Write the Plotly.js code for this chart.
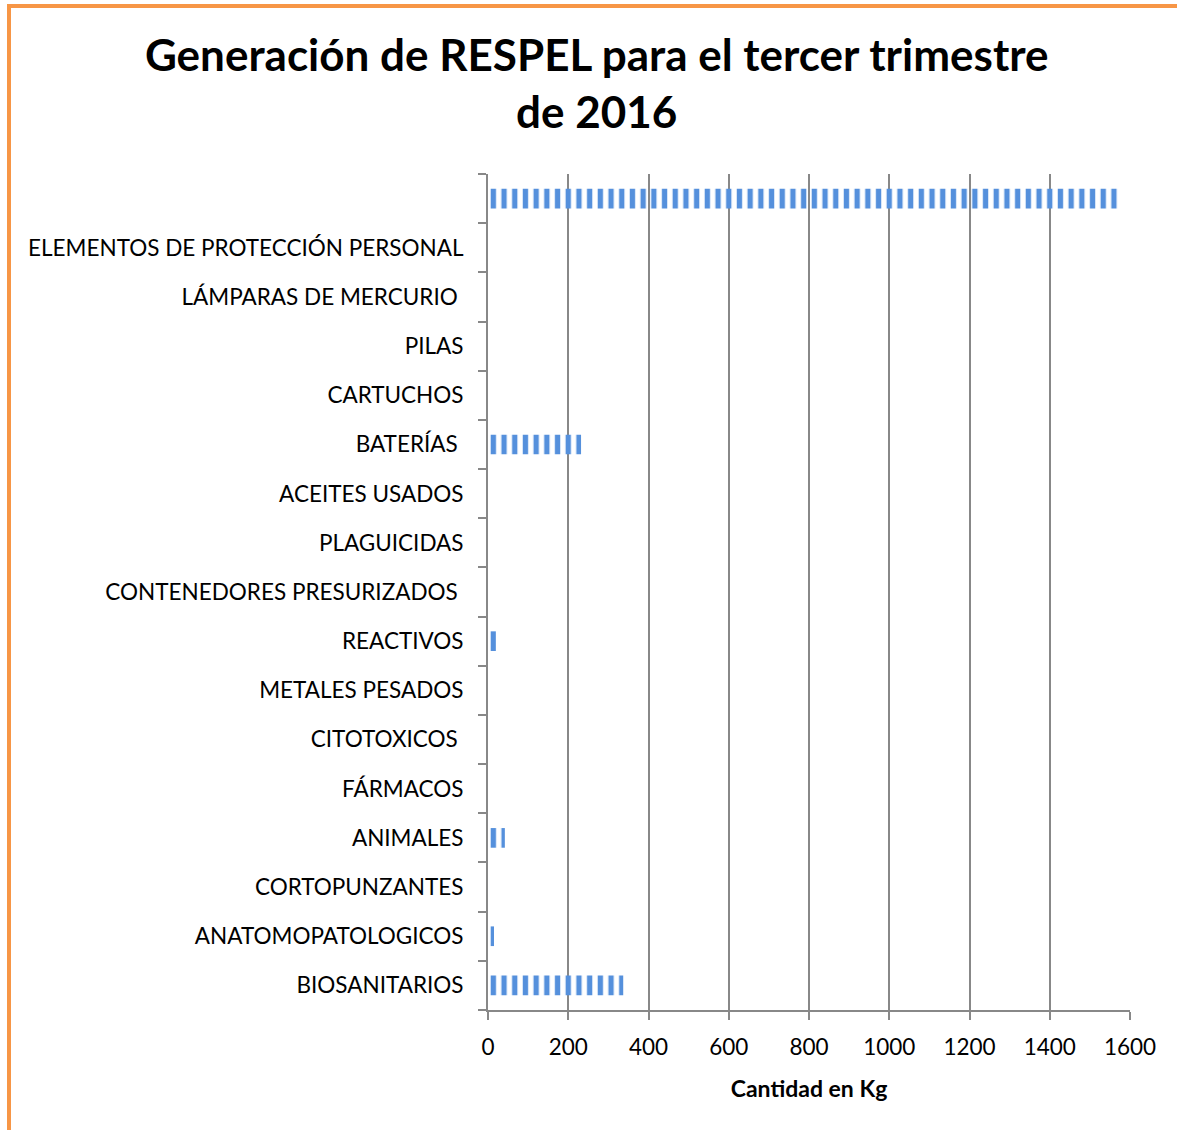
<!DOCTYPE html>
<html>
<head>
<meta charset="utf-8">
<script src="https://cdn.plot.ly/plotly-3.0.1.min.js"></script>
<style>
  html, body { margin: 0; padding: 0; background: #ffffff; }
  #wrap { position: relative; width: 1177px; height: 1130px; overflow: hidden; }
  #frame { position: absolute; left: 7px; top: 4px; width: 1200px; height: 1200px;
           border-top: 4px solid #F79646; border-left: 4px solid #F79646; box-sizing: border-box; pointer-events: none; z-index: 5; }
  #chart { position: absolute; left: 0; top: 0; width: 1177px; height: 1130px; }
</style>
</head>
<body>
<div id="wrap">
  <div id="chart"></div>
  <div id="frame"></div>
</div>
<script>
// Categories listed bottom to top
const categories = [
  "BIOSANITARIOS",
  "ANATOMOPATOLOGICOS",
  "CORTOPUNZANTES",
  "ANIMALES",
  "FÁRMACOS",
  "CITOTOXICOS\u00a0",
  "METALES PESADOS",
  "REACTIVOS",
  "CONTENEDORES PRESURIZADOS\u00a0",
  "PLAGUICIDAS",
  "ACEITES USADOS",
  "BATERÍAS\u00a0",
  "CARTUCHOS",
  "PILAS",
  "LÁMPARAS DE MERCURIO\u00a0",
  "ELEMENTOS DE PROTECCIÓN PERSONAL",
  " "
];
const cantidadKg = [337, 15, 5, 42, 0, 0, 0, 20, 0, 0, 3, 232, 0, 0, 0, 0, 1570];
const xTicks = [0, 200, 400, 600, 800, 1000, 1200, 1400, 1600];

const FONT = "Lato, Calibri, 'Liberation Sans', sans-serif";
const BLUE = "#5590DC";
const GRAY = "#888888";

const trace = {
  type: "bar",
  orientation: "h",
  x: cantidadKg,
  y: categories,
  marker: {
    color: BLUE,
    line: { width: 0 },
    pattern: { shape: "|", fgcolor: BLUE, bgcolor: "rgba(255,255,255,0)", size: 10.7, solidity: 0.5, fillmode: "replace" }
  },
  hoverinfo: "x+y"
};

const layout = {
  width: 1177,
  height: 1130,
  paper_bgcolor: "#ffffff",
  plot_bgcolor: "#ffffff",
  margin: { l: 488, r: 47, t: 174, b: 120 },
  showlegend: false,
  bargap: 0.6,
  font: { family: FONT, color: "#000000" },
  title: {
    text: "<b>Generación de RESPEL para el tercer trimestre<br>de 2016</b>",
    font: { family: FONT, size: 44, color: "#000000" },
    xref: "container", x: 0.507, xanchor: "center",
    yref: "container", y: 0.937, yanchor: "top"
  },
  xaxis: {
    range: [0, 1600],
    tickvals: xTicks,
    ticktext: xTicks.map(String),
    showgrid: true, gridcolor: GRAY, gridwidth: 2,
    zeroline: false,
    showline: true, linecolor: GRAY, linewidth: 2,
    ticks: "outside", ticklen: 8, tickwidth: 2, tickcolor: GRAY,
    tickfont: { family: FONT, size: 22.5, color: "#000000" },
    ticklabelstandoff: 8,
    title: { text: "<b>Cantidad en Kg</b>", font: { family: FONT, size: 23, color: "#000000" }, standoff: 22 },
    fixedrange: true
  },
  yaxis: {
    type: "category",
    categoryorder: "array",
    categoryarray: categories,
    showgrid: false,
    zeroline: false,
    showline: true, linecolor: GRAY, linewidth: 2,
    ticks: "outside", ticklen: 8, tickwidth: 2, tickcolor: GRAY,
    tickson: "boundaries",
    tickfont: { family: FONT, size: 22.5, color: "#000000" },
    ticklabelstandoff: 18,
    automargin: false,
    fixedrange: true
  }
};

Plotly.newPlot("chart", [trace], layout, { displayModeBar: false, staticPlot: true });
</script>
</body>
</html>
